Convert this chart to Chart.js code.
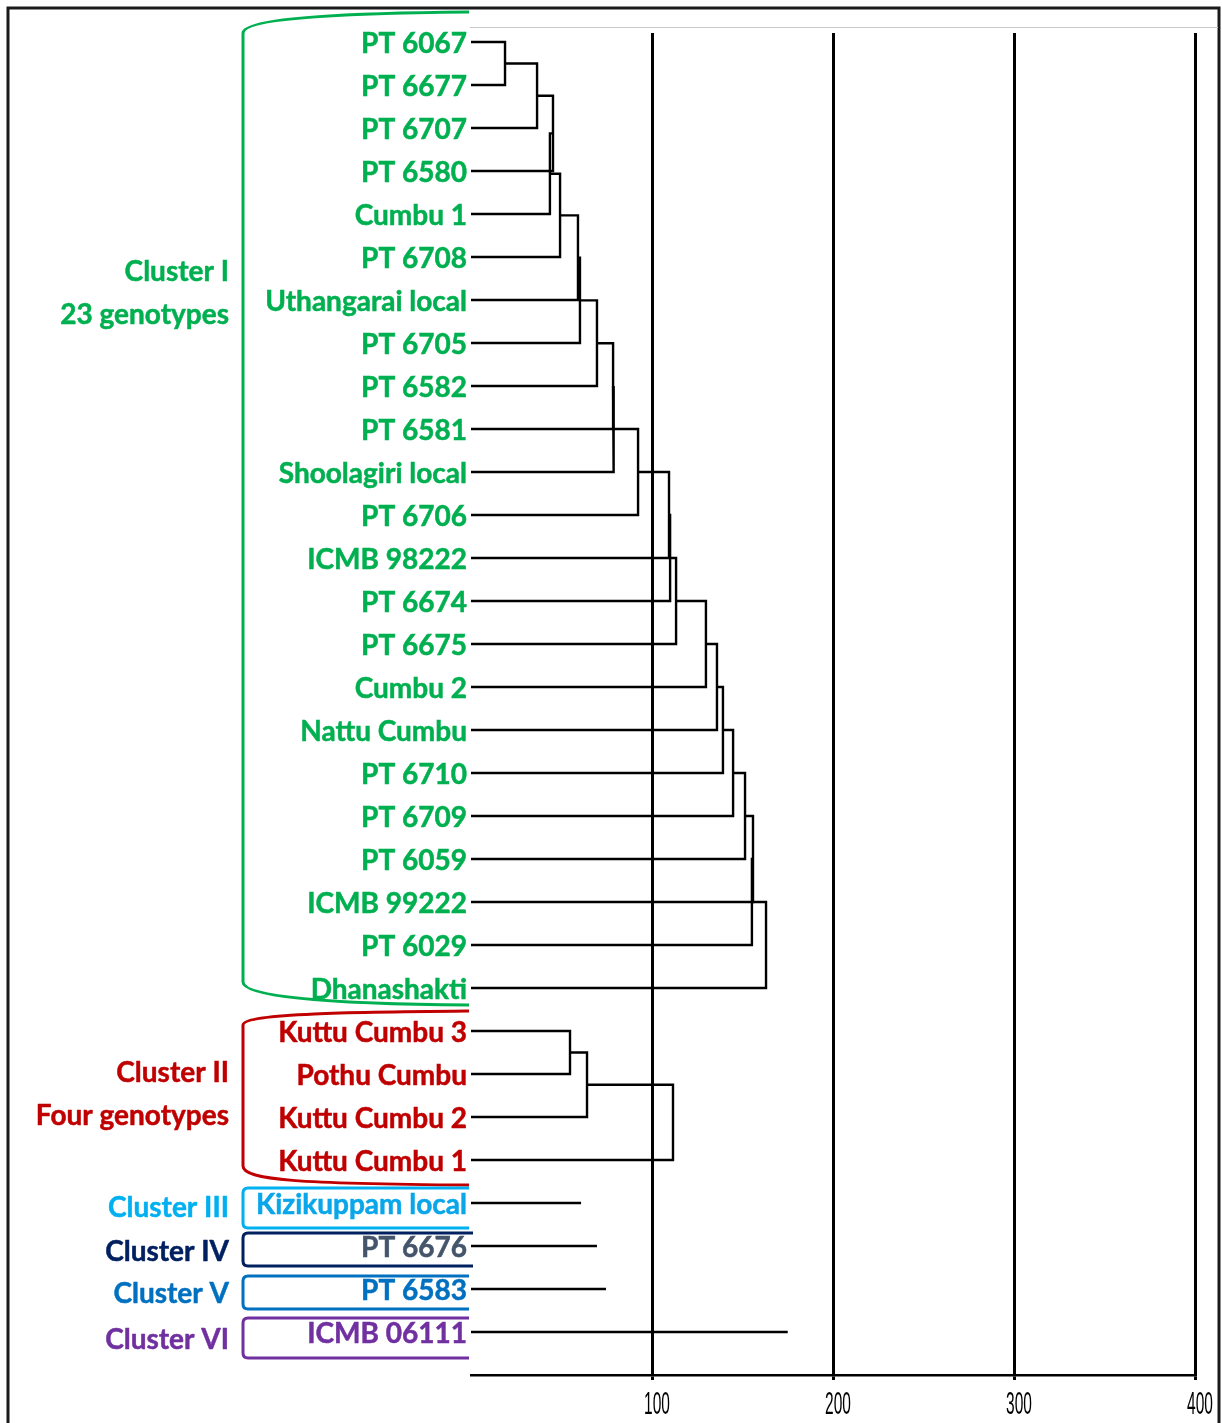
<!DOCTYPE html>
<html><head><meta charset="utf-8">
<script src="https://cdn.jsdelivr.net/npm/chart.js@4.4.1/dist/chart.umd.min.js"></script>
<style>html,body{margin:0;padding:0;background:#fff;}canvas{display:block;}</style>
</head><body>
<canvas id="c" width="1222" height="1423"></canvas>
<script>
// ---- data ----
const leaves = ["PT 6067","PT 6677","PT 6707","PT 6580","Cumbu 1","PT 6708","Uthangarai local","PT 6705","PT 6582","PT 6581","Shoolagiri local","PT 6706","ICMB 98222","PT 6674","PT 6675","Cumbu 2","Nattu Cumbu","PT 6710","PT 6709","PT 6059","ICMB 99222","PT 6029","Dhanashakti","Kuttu Cumbu 3","Pothu Cumbu","Kuttu Cumbu 2","Kuttu Cumbu 1","Kizikuppam local","PT 6676","PT 6583","ICMB 06111"];
const leafCluster = [0,0,0,0,0,0,0,0,0,0,0,0,0,0,0,0,0,0,0,0,0,0,0,1,1,1,1,2,3,4,5];
// merges: child refs are leaf names or "#k" (k-th merge)
const mergeLeft  = ["PT 6067","#0","#1","#2","#3","#4","#5","#6","#7","#8","#9","#10","#11","#12","#13","#14","#15","#16","#17","#18","#19","#20","Kuttu Cumbu 3","#22","#23"];
const mergeRight = ["PT 6677","PT 6707","PT 6580","Cumbu 1","PT 6708","Uthangarai local","PT 6705","PT 6582","PT 6581","Shoolagiri local","PT 6706","ICMB 98222","PT 6674","PT 6675","Cumbu 2","Nattu Cumbu","PT 6710","PT 6709","PT 6059","ICMB 99222","PT 6029","Dhanashakti","Pothu Cumbu","Kuttu Cumbu 2","Kuttu Cumbu 1"];
const mergeHeight = [18.8,36.5,45.3,43.6,49.2,59.1,60.2,69.6,78.5,78.8,92.3,109.4,110.0,113.3,129.8,135.9,139.2,144.8,151.4,155.8,155.2,163.0,54.7,64.1,111.6];
const singleLeaves = ["Kizikuppam local","PT 6676","PT 6583","ICMB 06111"];
const singleHeights = [60.8,69.6,74.6,175.0];
const xTicks = [100,200,300,400];
const clusterNames = ["Cluster I","Cluster II","Cluster III","Cluster IV","Cluster V","Cluster VI"];
const clusterSubs  = ["23 genotypes","Four genotypes","","","",""];

// ---- styles ----
const clusterColors = ["#00B050","#C00000","#00B0F0","#002060","#0070C0","#7030A0"];
const leafTextColors = ["#00B050","#C00000","#0AA6EA","#44546A","#0070C0","#7030A0"];
const FONT = "Lato, 'Open Sans', sans-serif";

// ---- build dendrogram segments ----
const pos = {};
leaves.forEach((n,i)=>{ pos[n] = {y:i, h:0}; });
const datasets = [];
const lineStyle = {borderColor:'#000', borderWidth:2.4, pointRadius:0, pointHoverRadius:0, tension:0, fill:false, clip:false, borderJoinStyle:'miter', borderCapStyle:'butt'};
mergeLeft.forEach((a,k)=>{
  const A = pos[a], B = pos[mergeRight[k]], h = mergeHeight[k];
  datasets.push(Object.assign({data:[{x:A.h,y:A.y},{x:h,y:A.y},{x:h,y:B.y},{x:B.h,y:B.y}]}, lineStyle));
  pos['#'+k] = {y:(A.y+B.y)/2, h:h};
});
singleLeaves.forEach((n,k)=>{
  datasets.push(Object.assign({data:[{x:0,y:pos[n].y},{x:singleHeights[k],y:pos[n].y}]}, lineStyle));
});

const decor = {
  id:'decor',
  afterDraw(chart){
    const ctx = chart.ctx, ys = chart.scales.y, xs = chart.scales.x;
    const Y = v => ys.getPixelForValue(v);
    ctx.save();
    // frame
    ctx.strokeStyle = '#1a1a1a'; ctx.lineWidth = 3;
    ctx.beginPath(); ctx.moveTo(8,1430); ctx.lineTo(8,8); ctx.lineTo(1219,8); ctx.lineTo(1219,1430); ctx.stroke();
    // thin top line
    ctx.strokeStyle = '#c8c8c8'; ctx.lineWidth = 1;
    ctx.beginPath(); ctx.moveTo(470,27.5); ctx.lineTo(1218,27.5); ctx.stroke();
    // brackets
    ctx.lineWidth = 3; ctx.lineJoin='round';
    const L = 243, R = 469;
    ctx.strokeStyle = clusterColors[0];
    ctx.beginPath(); ctx.moveTo(R, 12);
    ctx.bezierCurveTo(360,13, L,17, L,33);
    ctx.lineTo(L, 982);
    ctx.bezierCurveTo(L,997, 330,1004, R,1005);
    ctx.stroke();
    ctx.strokeStyle = clusterColors[1];
    ctx.beginPath(); ctx.moveTo(R, 1011);
    ctx.bezierCurveTo(360,1012, L,1013, L,1025);
    ctx.lineTo(L, 1166);
    ctx.bezierCurveTo(L,1180, 300,1184, R,1185);
    ctx.stroke();
    const tops = [0,0,-15,-13,-13,-14], bots = [0,0,25,20,20,26];
    for (let c=2;c<6;c++){
      const idx = leafCluster.indexOf(c);
      const top = Y(idx) + tops[c], bot = Y(idx) + bots[c];
      const r = R + (c===3?4:0);
      ctx.strokeStyle = clusterColors[c];
      ctx.beginPath(); ctx.moveTo(r, top); ctx.lineTo(L+5, top);
      ctx.quadraticCurveTo(L, top, L, top+5); ctx.lineTo(L, bot-5);
      ctx.quadraticCurveTo(L, bot, L+5, bot); ctx.lineTo(r, bot);
      ctx.stroke();
    }
    // cluster labels
    const rows = [5.35, 23.98, 27.12, 28.15, 29.12, 30.18];
    ctx.font = "bold 28px " + FONT; ctx.textAlign='right'; ctx.textBaseline='middle';
    ctx.lineWidth = 0.5; ctx.lineJoin='round';
    clusterNames.forEach((n,c)=>{
      ctx.fillStyle = clusterColors[c]; ctx.strokeStyle = clusterColors[c];
      const ly = [Y(rows[c])];
      if (clusterSubs[c]) ly.push(Y(rows[c]+1));
      [n, clusterSubs[c]].forEach((t,j)=>{ if(t){ ctx.fillText(t, 229, ly[j]); ctx.strokeText(t, 229, ly[j]); } });
    });
    // x tick labels (condensed)
    ctx.fillStyle = '#000'; ctx.textAlign='center'; ctx.textBaseline='middle';
    ctx.font = "31px 'Liberation Sans', Arial, sans-serif";
    xTicks.forEach(v=>{
      const px = xs.getPixelForValue(v) + 5;
      ctx.save(); ctx.translate(px, 1405); ctx.scale(0.5, 1);
      ctx.fillText(String(v), 0, 0); ctx.restore();
    });
    ctx.restore();
  }
};

new Chart(document.getElementById('c'), {
  type:'line',
  data:{datasets},
  plugins:[decor],
  options:{
    responsive:false, animation:false, devicePixelRatio:1,
    layout:{padding:{top:33, right:27, left:0, bottom:0}},
    plugins:{legend:{display:false}, tooltip:{enabled:false}},
    scales:{
      x:{type:'linear', min:0, max:400,
        afterBuildTicks:s=>{ s.ticks=[0].concat(xTicks).map(v=>({value:v})); },
        afterFit:s=>{ s.height = 48; },
        grid:{color:c=> (c.tick && c.tick.value===0) ? 'rgba(0,0,0,0)' : '#000', lineWidth:3, tickLength:5},
        border:{display:true, color:'#000', width:2.5},
        ticks:{color:'#000', padding:8, maxRotation:0, font:{size:12}, callback:()=> ''}
      },
      y:{type:'linear', reverse:true, min:-0.21, max:31,
        afterBuildTicks:s=>{ s.ticks = leaves.map((_,i)=>({value:i})); },
        afterFit:s=>{ s.width = 471; },
        grid:{display:false, drawTicks:false}, border:{display:false},
        ticks:{autoSkip:false, padding:4, labelOffset:2,
          color:c=> leafTextColors[leafCluster[c.index]],
          textStrokeColor:c=> leafTextColors[leafCluster[c.index]],
          textStrokeWidth:0.5,
          font:{family:FONT, size:28, weight:'bold'},
          callback:(v)=> leaves[v]}
      }
    }
  }
});
</script>
</body></html>
